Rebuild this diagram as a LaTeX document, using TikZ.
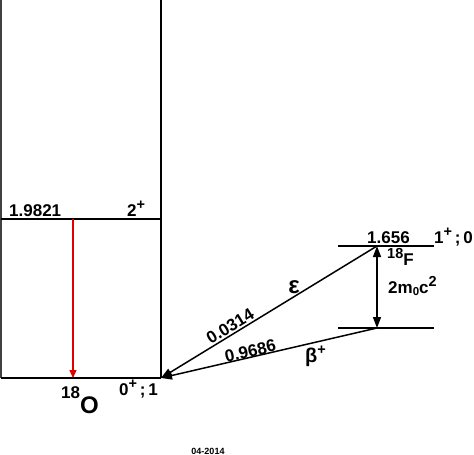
\documentclass[tikz,border=0pt]{standalone}
\usepackage{fontspec}
\setmainfont{Liberation Sans}
\usetikzlibrary{arrows.meta}
\newcommand{\sps}[1]{\raisebox{0.4em}{\fontsize{14.5}{14.5}\selectfont #1}}
\newcommand{\sbs}[1]{\raisebox{-0.12em}{\fontsize{11.5}{11.5}\selectfont #1}}
\begin{document}
\begin{tikzpicture}[x=1pt,y=-1pt,
  lvl/.style={line width=1.5pt},
  tr/.style={line width=1.5pt,-{Triangle[length=11pt,width=8pt]}},
  lab/.style={font=\bfseries\fontsize{17}{19}\selectfont,inner sep=0pt},
  small/.style={font=\bfseries\fontsize{9}{10}\selectfont,inner sep=0pt}]
\useasboundingbox (0,0) rectangle (474,455);
% coordinates
\coordinate (tl) at (1,0);
\coordinate (tr0) at (161,0);
\coordinate (l2) at (1,219);
\coordinate (r2) at (161,219);
\coordinate (l0) at (1,378);
\coordinate (r0) at (161,378);
\coordinate (fu1) at (338,246);
\coordinate (fu2) at (434,246);
\coordinate (fl1) at (338,328);
\coordinate (fl2) at (434,328);
\coordinate (fu) at (377,246);
\coordinate (fl) at (377,328);
\coordinate (g2) at (73,219);
\coordinate (g0) at (73,378);
% O-18 box
\draw[lvl,draw=black!75] (tl) -- (l0);
\draw[lvl] (tr0) -- (r0);
\draw[lvl] (l2) -- (r2);
\draw[lvl] (l0) -- (r0);
% F-18 levels
\draw[lvl] (fu1) -- (fu2);
\draw[lvl] (fl1) -- (fl2);
% gamma
\draw[line width=1.1pt,red!88!black,-{Triangle[length=8pt,width=7pt]}] (g2) -- (g0);
% 2m0c2 arrow
\draw[line width=1.5pt,{Triangle[length=11pt,width=8pt]}-{Triangle[length=11pt,width=8pt]}] (fu) -- (fl);
% decays
\draw[tr] (fu) -- (r0) node[pos=0.66,sloped,above=1.5pt,lab] (pe) {0.0314};
\draw[tr] (fl) -- (r0) node[pos=0.58,sloped,above=-0.5pt,lab] (pb) {0.9686};
% labels
\node[lab,anchor=base west] (e1) at (9,216) {1.9821};
\node[lab,anchor=base west] (j2) at (127,216) {2\sps{+}};
\node[lab,anchor=base west] (e2) at (367,243) {1.656};
\node[lab,anchor=base west] (j1) at (434,243) {1\sps{+}\,;\,0};
\node[lab,anchor=base west] (f18) at (387,265) {\sps{18}F};
\node[lab,anchor=base west] (mc) at (388,293) {2m\sbs{0}c\sps{2}};
\node[font=\bfseries\fontsize{24}{26}\selectfont,inner sep=0pt] (eps) at (294,287) {ε};
\node[font=\bfseries\fontsize{20}{22}\selectfont,inner sep=0pt,anchor=base west] (bet) at (305,362) {β\sps{+}};
\node[font=\bfseries\fontsize{24}{26}\selectfont,inner sep=0pt,anchor=base west] (o18) at (61,413) {\raisebox{0.6em}{\fontsize{17}{18}\selectfont 18}O};
\node[lab,anchor=base west] (j0) at (119,395) {0\sps{+}\,;\,1};
\node[small,anchor=base] (dt) at (208,454) {04-2014};
\end{tikzpicture}
\end{document}
